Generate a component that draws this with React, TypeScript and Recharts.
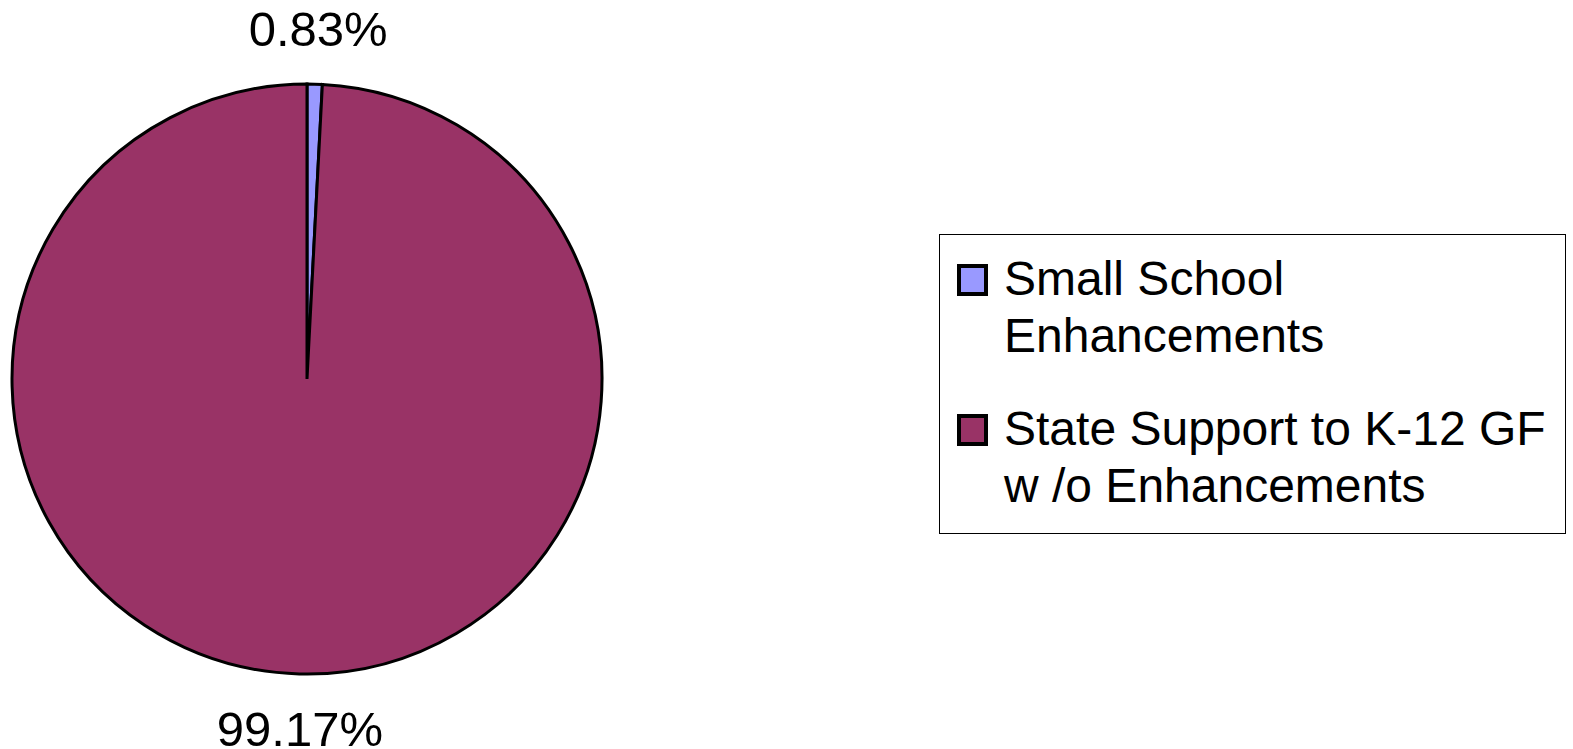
import React from 'react';
import { PieChart, Pie, Cell, Legend } from 'recharts';

// Share of state K-12 general fund support
const CATEGORIES = ['Small School Enhancements', 'State Support to K-12 GF w /o Enhancements'];
const LEGEND_LINES = [
  ['Small School', 'Enhancements'],
  ['State Support to K-12 GF', 'w /o Enhancements'],
];
const SHARES = [0.83, 99.17];
const COLORS = ['#9999FF', '#993366'];

const FONT = '"Liberation Sans", Arial, Helvetica, sans-serif';
const RADIAN = Math.PI / 180;

const chartData = CATEGORIES.map((name, i) => ({ name, value: SHARES[i] }));

// Percent label placed just outside the slice, like the spreadsheet original
const renderLabel = (props: any) => {
  const { cx, cy, midAngle, outerRadius, value } = props;
  const r = outerRadius + 55;
  const x = cx + r * Math.cos(-midAngle * RADIAN);
  const y = cy + r * Math.sin(-midAngle * RADIAN);
  return (
    <text
      x={x + 2}
      y={y}
      fill="#000"
      textAnchor="middle"
      dominantBaseline="central"
      fontSize={49}
      fontFamily={FONT}
    >
      {`${value.toFixed(2)}%`}
    </text>
  );
};

const renderLegend = () => (
  <div
    style={{
      width: 625,
      height: 298,
      border: '1px solid #000',
      background: '#fff',
      fontFamily: FONT,
      fontSize: 48,
      lineHeight: '57px',
      color: '#000',
      boxSizing: 'content-box',
      position: 'relative',
    }}
  >
    {LEGEND_LINES.map((lines, i) => (
      <div
        key={i}
        style={{ position: 'absolute', left: 0, top: 15 + i * 150, width: '100%' }}
      >
        <div
          style={{
            position: 'absolute',
            left: 17,
            top: 14,
            width: 23,
            height: 24,
            background: COLORS[i],
            border: '4px solid #000',
          }}
        />
        <div style={{ marginLeft: 64, whiteSpace: 'nowrap' }}>
          {lines.map((l) => (
            <div key={l}>{l}</div>
          ))}
        </div>
      </div>
    ))}
  </div>
);

export default function App() {
  return (
    <div style={{ position: 'absolute', left: 0, top: 0, width: 1573, height: 749, background: '#fff' }}>
      <PieChart width={1573} height={749} margin={{ top: 0, right: 0, bottom: 0, left: 0 }}>
        <Pie
          data={chartData}
          dataKey="value"
          nameKey="name"
          cx={307}
          cy={379}
          outerRadius={295}
          startAngle={90}
          endAngle={-270}
          stroke="#000"
          strokeWidth={3}
          label={renderLabel}
          labelLine={false}
          isAnimationActive={false}
        >
          {chartData.map((d, i) => (
            <Cell key={d.name} fill={COLORS[i]} />
          ))}
        </Pie>
        <Legend
          content={renderLegend}
          wrapperStyle={{ position: 'absolute', left: 939, top: 234, width: 627, height: 300 }}
        />
      </PieChart>
    </div>
  );
}
